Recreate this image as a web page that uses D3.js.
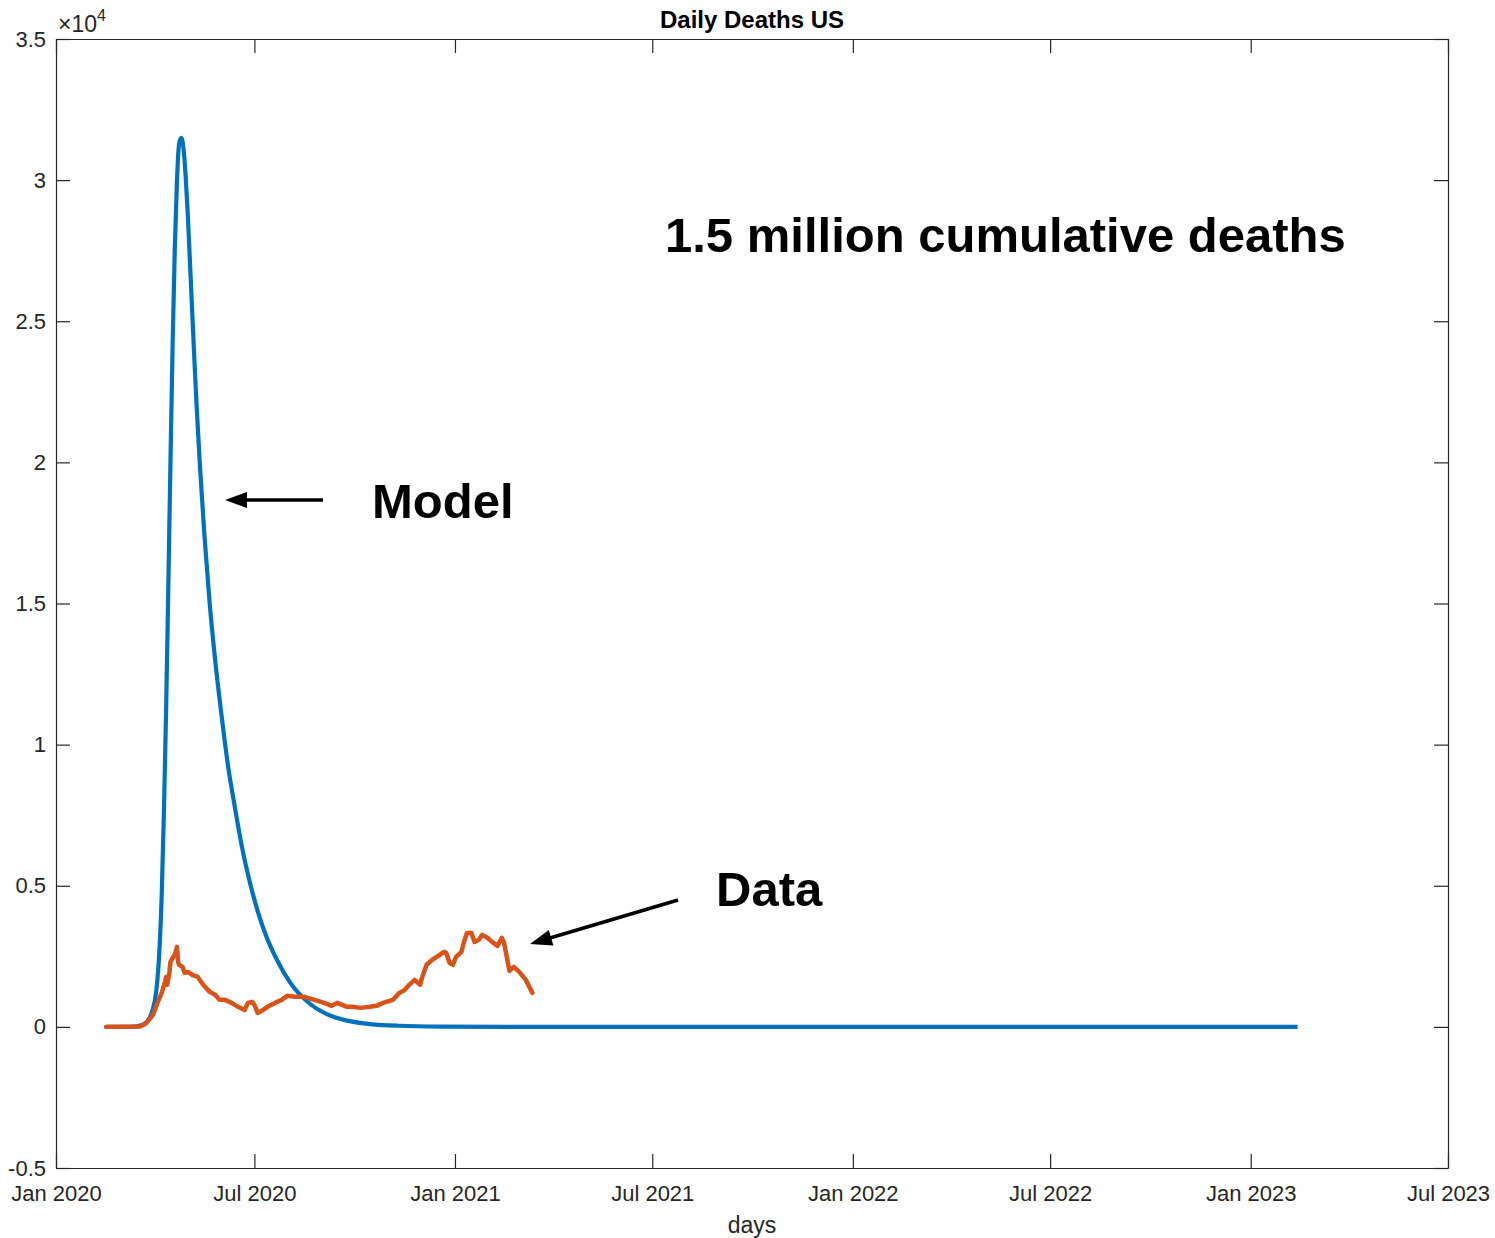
<!DOCTYPE html>
<html>
<head>
<meta charset="utf-8">
<script src="https://cdn.jsdelivr.net/npm/d3@7"></script>
<style>
  html, body { margin: 0; padding: 0; background: #fff; }
  svg { display: block; }
  text { font-family: "Liberation Sans", Arial, Helvetica, sans-serif; }
</style>
</head>
<body>
<svg id="chart" width="1495" height="1238"></svg>
<script>
// Model curve: simulated daily deaths
const modelDates = [
  "2020-02-16", "2020-03-10", "2020-03-20", "2020-03-24", "2020-03-27", "2020-03-30",
  "2020-04-01", "2020-04-03", "2020-04-05", "2020-04-07", "2020-04-09", "2020-04-11",
  "2020-04-13", "2020-04-15", "2020-04-17", "2020-04-19", "2020-04-21", "2020-04-23",
  "2020-04-25", "2020-04-27", "2020-04-29", "2020-05-01", "2020-05-03", "2020-05-05",
  "2020-05-07", "2020-05-09", "2020-05-12", "2020-05-16", "2020-05-21", "2020-05-26",
  "2020-06-01", "2020-06-07", "2020-06-13", "2020-06-20", "2020-06-27", "2020-07-04",
  "2020-07-11", "2020-07-22", "2020-08-03", "2020-08-19", "2020-09-06", "2020-09-24",
  "2020-10-15", "2020-11-10", "2020-12-20", "2021-02-20", "2021-05-01", "2023-02-13"
];
const modelDeaths = [
  0, 5, 70, 170, 330, 650,
  1000, 1650, 2800, 4700, 7600, 11200,
  15500, 20000, 24200, 27600, 30000, 31300,
  31500, 31100, 30100, 28700, 27000, 25300,
  23600, 22000, 19900, 17500, 15000, 13000,
  11000, 9200, 7800, 6300, 5100, 4100,
  3300, 2350, 1560, 880, 440, 220,
  100, 40, 12, 2, 0, 0
];

// Reported daily deaths
const dataDates = [
  "2020-02-16", "2020-03-18", "2020-03-24", "2020-03-30", "2020-04-03", "2020-04-07",
  "2020-04-10", "2020-04-11", "2020-04-12", "2020-04-14", "2020-04-15", "2020-04-17",
  "2020-04-19", "2020-04-21", "2020-04-22", "2020-04-23", "2020-04-26", "2020-04-28",
  "2020-05-01", "2020-05-05", "2020-05-10", "2020-05-15", "2020-05-21", "2020-05-26",
  "2020-05-30", "2020-06-04", "2020-06-10", "2020-06-16", "2020-06-22", "2020-06-25",
  "2020-06-29", "2020-07-01", "2020-07-04", "2020-07-09", "2020-07-13", "2020-07-20",
  "2020-07-26", "2020-07-31", "2020-08-07", "2020-08-16", "2020-08-25", "2020-09-03",
  "2020-09-10", "2020-09-15", "2020-09-24", "2020-09-29", "2020-10-06", "2020-10-15",
  "2020-10-21", "2020-10-27", "2020-11-05", "2020-11-11", "2020-11-16", "2020-11-20",
  "2020-11-25", "2020-11-30", "2020-12-02", "2020-12-06", "2020-12-11", "2020-12-18",
  "2020-12-22", "2020-12-24", "2020-12-27", "2020-12-30", "2021-01-02", "2021-01-07",
  "2021-01-09", "2021-01-12", "2021-01-16", "2021-01-19", "2021-01-23", "2021-01-26",
  "2021-01-31", "2021-02-04", "2021-02-09", "2021-02-13", "2021-02-15", "2021-02-20",
  "2021-02-24", "2021-03-01", "2021-03-07", "2021-03-13"
];
const dataDeaths = [
  0, 10, 140, 425, 850, 1205,
  1595, 1770, 1490, 1915, 2300, 2445,
  2550, 2835, 2300, 2200, 2125, 1915,
  1950, 1840, 1770, 1490, 1240, 1135,
  957, 957, 850, 710, 600, 850,
  885, 780, 495, 600, 710, 850,
  957, 1100, 1065, 1065, 957, 850,
  745, 850, 710, 710, 673, 710,
  745, 850, 957, 1205, 1310, 1490,
  1665, 1490, 1770, 2200, 2375, 2550,
  2660, 2620, 2270, 2200, 2480, 2660,
  2980, 3330, 3330, 3010, 3085, 3260,
  3150, 3010, 2870, 3150, 2980, 1985,
  2125, 1950, 1665, 1205
];

// Axis ticks
const yTickValues = [-5000, 0, 5000, 10000, 15000, 20000, 25000, 30000, 35000];
const yTickLabels = ["-0.5", "0", "0.5", "1", "1.5", "2", "2.5", "3", "3.5"];
const xTickDates = ["2020-01-01", "2020-07-01", "2021-01-01", "2021-07-01",
                    "2022-01-01", "2022-07-01", "2023-01-01", "2023-07-01"];
const xTickLabels = ["Jan 2020", "Jul 2020", "Jan 2021", "Jul 2021",
                     "Jan 2022", "Jul 2022", "Jan 2023", "Jul 2023"];

const parse = d3.utcParse("%Y-%m-%d");

const box = { left: 56, right: 1448, top: 39, bottom: 1168 };
const axisColor = "#262626";
const tickLen = 14;

const svg = d3.select("#chart");
svg.append("rect").attr("width", 1495).attr("height", 1238).attr("fill", "#fff");

const x = d3.scaleUtc()
  .domain([parse(xTickDates[0]), parse(xTickDates[xTickDates.length - 1])])
  .range([box.left, box.right]);
const y = d3.scaleLinear()
  .domain([-5000, 35000])
  .range([box.bottom, box.top]);

const xTicks = xTickDates.map(parse);

// Series
const line = d3.line()
  .x(d => x(d[0]))
  .y(d => y(d[1]));

const modelSeries = modelDates.map((d, i) => [parse(d), modelDeaths[i]]);
const dataSeries = dataDates.map((d, i) => [parse(d), dataDeaths[i]]);

svg.append("path")
  .datum(modelSeries)
  .attr("fill", "none")
  .attr("stroke", "#0072BD")
  .attr("stroke-width", 4.2)
  .attr("stroke-linejoin", "round")
  .attr("d", line.curve(d3.curveMonotoneX));

svg.append("path")
  .datum(dataSeries)
  .attr("fill", "none")
  .attr("stroke", "#D95319")
  .attr("stroke-width", 4.5)
  .attr("stroke-linejoin", "round")
  .attr("stroke-linecap", "round")
  .attr("d", line.curve(d3.curveLinear));

// Axes: box outline with inward ticks on all four sides
function styleAxis(g) {
  g.selectAll("path.domain").attr("stroke", axisColor).attr("stroke-width", 1.2);
  g.selectAll(".tick line").attr("stroke", axisColor).attr("stroke-width", 1.2);
  g.selectAll(".tick text")
    .attr("fill", axisColor)
    .style("font-family", '"Liberation Sans", Arial, sans-serif')
    .style("font-size", "22px");
}

svg.append("g")
  .attr("transform", `translate(0,${box.bottom})`)
  .call(d3.axisBottom(x).tickValues(xTicks).tickSizeInner(-tickLen).tickSizeOuter(0)
    .tickPadding(17).tickFormat((d, i) => xTickLabels[i]))
  .call(styleAxis);

svg.append("g")
  .attr("transform", `translate(0,${box.top})`)
  .call(d3.axisTop(x).tickValues(xTicks).tickSizeInner(-tickLen).tickSizeOuter(0)
    .tickFormat(""))
  .call(styleAxis);

svg.append("g")
  .attr("transform", `translate(${box.left},0)`)
  .call(d3.axisLeft(y).tickValues(yTickValues).tickSizeInner(-tickLen).tickSizeOuter(0)
    .tickPadding(10).tickFormat((d, i) => yTickLabels[i]))
  .call(styleAxis);

svg.append("g")
  .attr("transform", `translate(${box.right},0)`)
  .call(d3.axisRight(y).tickValues(yTickValues).tickSizeInner(-tickLen).tickSizeOuter(0)
    .tickFormat(""))
  .call(styleAxis);

svg.selectAll("text").attr("font-family", '"Liberation Sans", Arial, sans-serif');

// Exponent marker
const expo = svg.append("text")
  .attr("x", 58).attr("y", 32)
  .attr("fill", axisColor)
  .style("font-size", "23px");
expo.append("tspan").text("\u00d710");
expo.append("tspan").attr("dy", -11).style("font-size", "16px").text("4");

// Title and axis label
svg.append("text")
  .attr("x", (box.left + box.right) / 2).attr("y", 28)
  .attr("text-anchor", "middle")
  .attr("font-weight", "bold")
  .attr("fill", "#000")
  .style("font-size", "24px")
  .text("Daily Deaths US");

svg.append("text")
  .attr("x", (box.left + box.right) / 2).attr("y", 1233)
  .attr("text-anchor", "middle")
  .attr("fill", axisColor)
  .style("font-size", "23px")
  .text("days");

// Annotations
const notes = [
  { text: "1.5 million cumulative deaths", x: 665, y: 252 },
  { text: "Model", x: 372, y: 518 },
  { text: "Data", x: 716, y: 906 }
];
svg.selectAll("text.note")
  .data(notes)
  .join("text")
  .attr("class", "note")
  .attr("x", d => d.x).attr("y", d => d.y)
  .attr("font-weight", "bold")
  .attr("fill", "#000")
  .style("font-size", "49px")
  .text(d => d.text);

// Arrows pointing at the two curves
const arrows = [
  { x1: 323, y1: 500, x2: 225, y2: 500 },
  { x1: 678, y1: 900, x2: 530, y2: 944 }
];
const headLen = 22, headHalf = 8;
arrows.forEach(a => {
  const ang = Math.atan2(a.y2 - a.y1, a.x2 - a.x1);
  const bx = a.x2 - headLen * Math.cos(ang), by = a.y2 - headLen * Math.sin(ang);
  svg.append("line")
    .attr("x1", a.x1).attr("y1", a.y1).attr("x2", bx + 2 * Math.cos(ang)).attr("y2", by + 2 * Math.sin(ang))
    .attr("stroke", "#000").attr("stroke-width", 3.5);
  const px = -Math.sin(ang), py = Math.cos(ang);
  svg.append("path")
    .attr("d", `M${a.x2},${a.y2} L${bx + headHalf * px},${by + headHalf * py} L${bx - headHalf * px},${by - headHalf * py} Z`)
    .attr("fill", "#000");
});
</script>
</body>
</html>
